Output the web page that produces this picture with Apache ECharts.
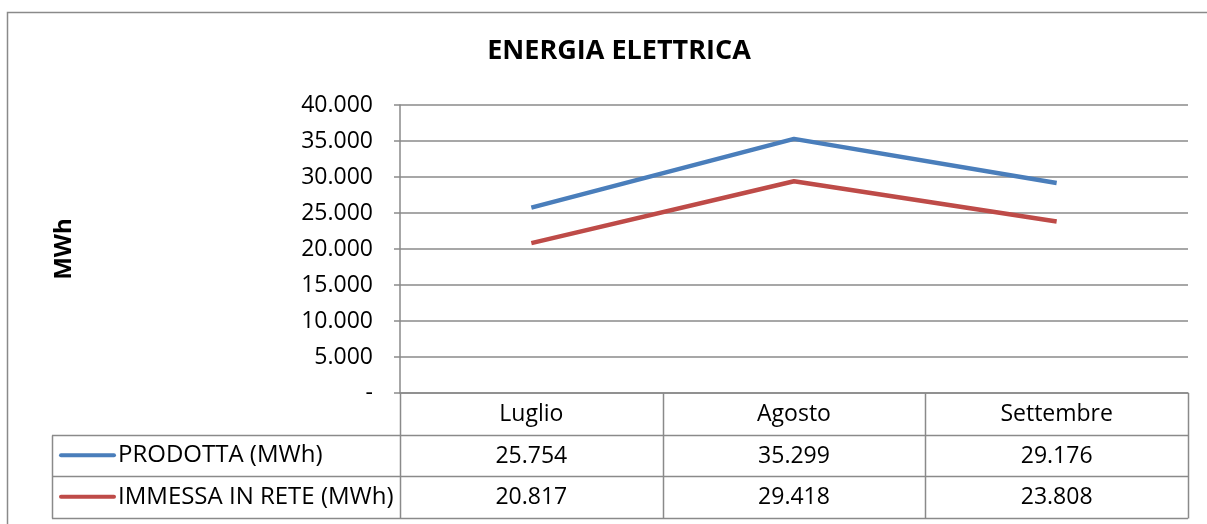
<!DOCTYPE html>
<html>
<head>
<meta charset="utf-8">
<script src="https://cdn.jsdelivr.net/npm/echarts@6/dist/echarts.min.js"></script>
<style>
  html, body { margin: 0; padding: 0; background: #fff; }
  #chart { width: 1207px; height: 524px; }
</style>
</head>
<body>
<div id="chart"></div>
<script>
// dati del grafico
var mesi = ['Luglio', 'Agosto', 'Settembre'];
var prodotta = [25754, 35299, 29176];
var immessa = [20817, 29418, 23808];
var nomiSerie = ['PRODOTTA (MWh)', 'IMMESSA IN RETE (MWh)'];
var coloriSerie = ['#4A7EBB', '#BE4B48'];

// formato italiano: 25.754
function fmt(v) {
  if (v === 0) return '-';
  return String(Math.round(v)).replace(/\B(?=(\d{3})+(?!\d))/g, '.');
}

var font = '"Open Sans", sans-serif';
var grigio = '#8a8a8a';
var fs = 23;

// layout della tabella dati
var gL = 400, gR = 1188, gT = 105, gB = 393;
var rigaH = 41.5;
var tabL = 52;
var colW = (gR - gL) / mesi.length;

var myChart = echarts.init(document.getElementById('chart'));

var graphic = [];
// bordo esterno
graphic.push({ type: 'rect', shape: { x: 7.5, y: 12.5, width: 1300, height: 600 },
  style: { fill: 'none', stroke: grigio, lineWidth: 1.5 }, silent: true });
// linee orizzontali tabella
for (var r = 1; r <= 3; r++) {
  var y = Math.round(gB + r * rigaH) + 0.5;
  graphic.push({ type: 'line', shape: { x1: tabL, y1: y, x2: gR, y2: y },
    style: { stroke: grigio, lineWidth: 1.5 }, silent: true });
}
// linee verticali tabella
for (var c = 0; c <= mesi.length; c++) {
  var x = Math.round(gL + c * colW) + 0.5;
  graphic.push({ type: 'line', shape: { x1: x, y1: gB, x2: x, y2: Math.round(gB + 3 * rigaH) + 0.5 },
    style: { stroke: grigio, lineWidth: 1.5 }, silent: true });
}
graphic.push({ type: 'line', shape: { x1: tabL + 0.5, y1: Math.round(gB + rigaH) + 0.5, x2: tabL + 0.5, y2: Math.round(gB + 3 * rigaH) + 0.5 },
  style: { stroke: grigio, lineWidth: 1.5 }, silent: true });
// legenda nella tabella
nomiSerie.forEach(function (n, i) {
  var yc = gB + (i + 1.5) * rigaH;
  graphic.push({ type: 'line', shape: { x1: 61, y1: yc, x2: 114, y2: yc },
    style: { stroke: coloriSerie[i], lineWidth: 4, lineCap: 'round' }, silent: true });
  graphic.push({ type: 'text', x: 118, y: yc,
    style: { text: n, font: '24px ' + font, fill: '#000', textVerticalAlign: 'middle' }, silent: true });
});

var etichetta = { fontFamily: font, fontSize: fs, color: '#000', margin: 10 };

var option = {
  animation: false,
  title: {
    text: 'ENERGIA ELETTRICA',
    left: 614,
    textAlign: 'center',
    top: 33,
    textStyle: { fontFamily: font, fontSize: 27, fontWeight: 'bold', color: '#000' }
  },
  grid: { left: gL, right: 1207 - gR, top: gT, bottom: 524 - gB },
  xAxis: [
    {
      type: 'category', data: mesi, boundaryGap: true,
      axisLine: { lineStyle: { color: grigio, width: 1.5 } },
      axisTick: { show: false },
      axisLabel: etichetta
    },
    {
      type: 'category', data: prodotta.map(fmt), position: 'bottom', offset: rigaH,
      axisLine: { show: false }, axisTick: { show: false },
      axisLabel: etichetta
    },
    {
      type: 'category', data: immessa.map(fmt), position: 'bottom', offset: rigaH * 2,
      axisLine: { show: false }, axisTick: { show: false },
      axisLabel: etichetta
    }
  ],
  yAxis: {
    type: 'value', min: 0, max: 40000, interval: 5000,
    name: 'MWh', nameLocation: 'middle', nameGap: 324, nameRotate: 90,
    nameTextStyle: { fontFamily: font, fontSize: 24, fontWeight: 'bold', color: '#000' },
    axisLine: { show: true, lineStyle: { color: grigio, width: 1.5 } },
    axisTick: { show: true, length: 6, lineStyle: { color: grigio, width: 1.5 } },
    axisLabel: { fontFamily: font, fontSize: fs, color: '#000', margin: 27, formatter: fmt },
    splitLine: { lineStyle: { color: grigio, width: 1.5 } }
  },
  series: [
    { name: nomiSerie[0], type: 'line', data: prodotta, symbol: 'none',
      lineStyle: { color: coloriSerie[0], width: 4.5 } },
    { name: nomiSerie[1], type: 'line', data: immessa, symbol: 'none',
      lineStyle: { color: coloriSerie[1], width: 4.5 } }
  ],
  graphic: graphic
};

myChart.setOption(option);
</script>
</body>
</html>
